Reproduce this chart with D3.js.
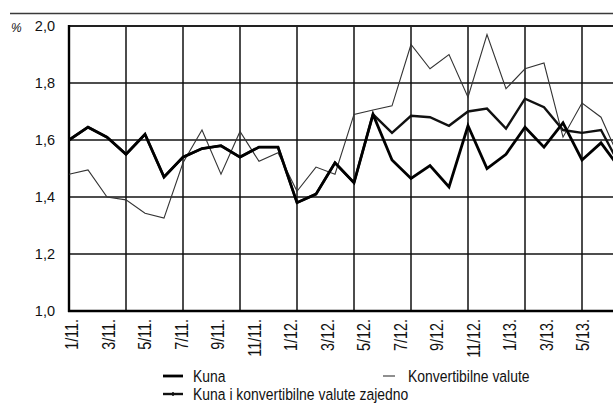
<!DOCTYPE html>
<html>
<head>
<meta charset="utf-8">
<script src="https://cdn.jsdelivr.net/npm/d3@7"></script>
<style>
  html, body { margin: 0; padding: 0; background: #fff; overflow: hidden; }
  svg { display: block; }
  text { font-family: "Liberation Sans", Arial, Helvetica, sans-serif; }
</style>
</head>
<body>
<script>
// Monthly observations, January 2011 to June 2013
const months = ["1/11","2/11","3/11","4/11","5/11","6/11","7/11","8/11","9/11","10/11","11/11","12/11",
                "1/12","2/12","3/12","4/12","5/12","6/12","7/12","8/12","9/12","10/12","11/12","12/12",
                "1/13","2/13","3/13","4/13","5/13","6/13"];

const kuna = [1.60, 1.645, 1.61, 1.55, 1.62, 1.47, 1.54, 1.57, 1.58, 1.54, 1.575, 1.575,
              1.38, 1.41, 1.52, 1.45, 1.69, 1.53, 1.465, 1.51, 1.435, 1.65, 1.50, 1.55,
              1.645, 1.575, 1.66, 1.53, 1.59, 1.50];

const konvertibilne = [1.48, 1.495, 1.40, 1.39, 1.343, 1.326, 1.52, 1.635, 1.48, 1.63, 1.525, 1.555,
                       1.42, 1.505, 1.48, 1.69, 1.705, 1.72, 1.935, 1.85, 1.90, 1.75, 1.97, 1.78,
                       1.85, 1.87, 1.61, 1.73, 1.68, 1.53];

const zajedno = [1.60, 1.645, 1.61, 1.55, 1.62, 1.47, 1.54, 1.57, 1.58, 1.54, 1.575, 1.575,
                 1.38, 1.41, 1.52, 1.45, 1.69, 1.625, 1.685, 1.68, 1.65, 1.70, 1.71, 1.64,
                 1.745, 1.715, 1.635, 1.625, 1.635, 1.51];

const yTicks = [1.0, 1.2, 1.4, 1.6, 1.8, 2.0];
const xTickLabels = ["1/11.","3/11.","5/11.","7/11.","9/11.","11/11.","1/12.","3/12.","5/12.",
                     "7/12.","9/12.","11/12.","1/13.","3/13.","5/13."];

const W = 613, H = 403;
const NARROW = 0.82;   // horizontal squeeze giving a condensed face
const svg = d3.select("body").append("svg").attr("width", W).attr("height", H);

// data positions: one step per month
const x = d3.scaleLinear().domain([0, months.length - 1]).range([69, 620]);
// month captions run on their own, slightly tighter spacing
const xLab = d3.scaleLinear().domain([0, xTickLabels.length - 1]).range([72, 583]);
const y = d3.scaleLinear().domain([1.0, 2.0]).range([311, 26]);

// header rule
svg.append("line").attr("x1", 10).attr("x2", W).attr("y1", 13.5).attr("y2", 13.5)
   .attr("stroke", "#3a3a3a").attr("stroke-width", 1.6);

// horizontal grid
svg.append("g").selectAll("line").data(yTicks.filter(d => d > 1.0 && d < 2.0)).join("line")
   .attr("x1", x(0)).attr("x2", W)
   .attr("y1", d => y(d)).attr("y2", d => y(d))
   .attr("stroke", "#4d4d4d").attr("stroke-width", 1.8);

// vertical grid every third month
svg.append("g").selectAll("line").data(d3.range(3, months.length, 3)).join("line")
   .attr("x1", d => x(d)).attr("x2", d => x(d))
   .attr("y1", y(2.0)).attr("y2", y(1.0))
   .attr("stroke", "#111").attr("stroke-width", 1.5);

// frame: top, left, bottom
svg.append("line").attr("x1", x(0)).attr("x2", W).attr("y1", y(2.0)).attr("y2", y(2.0))
   .attr("stroke", "#222").attr("stroke-width", 2);
svg.append("line").attr("x1", x(0)).attr("x2", x(0)).attr("y1", y(2.0) - 1).attr("y2", y(1.0) + 1)
   .attr("stroke", "#000").attr("stroke-width", 2.4);
svg.append("line").attr("x1", x(0) - 1).attr("x2", W).attr("y1", y(1.0)).attr("y2", y(1.0))
   .attr("stroke", "#000").attr("stroke-width", 2.4);

// y axis labels
const fmt = d => d3.format(".1f")(d).replace(".", ",");
svg.append("g").selectAll("text").data(yTicks).join("text")
   .attr("x", 55).attr("y", d => y(d)).attr("dy", "0.36em")
   .attr("text-anchor", "end").attr("font-size", 14.5).attr("fill", "#111")
   .text(fmt);
svg.append("text").attr("x", 11).attr("y", 31.5)
   .attr("font-size", 12).attr("font-style", "italic").attr("fill", "#111").text("%");

// x axis captions, read bottom to top
svg.append("g").selectAll("text").data(xTickLabels).join("text")
   .attr("transform", (d, i) => `translate(${xLab(i)},319) rotate(-90) scale(${NARROW},1)`)
   .attr("text-anchor", "end").attr("dy", "0.36em")
   .attr("font-size", 17.5).attr("fill", "#111")
   .text(d => d);

// series lines
const line = d3.line().x((d, i) => x(i)).y(d => y(d));
const series = [
  { name: "Kuna i konvertibilne valute zajedno", values: zajedno, width: 2.4, color: "#111" },
  { name: "Konvertibilne valute", values: konvertibilne, width: 1.1, color: "#333" },
  { name: "Kuna", values: kuna, width: 2.8, color: "#000" }
];
svg.append("g").selectAll("path").data(series).join("path")
   .attr("d", s => line(s.values))
   .attr("fill", "none").attr("stroke", s => s.color)
   .attr("stroke-width", s => s.width).attr("stroke-linejoin", "miter");

// legend
const leg = svg.append("g").attr("font-size", 17).attr("fill", "#111");
const legendItems = [
  { s: series[2], lx: 163, ly: 376, len: 20, tx: 193 },
  { s: series[1], lx: 383, ly: 376, len: 12, tx: 408 },
  { s: series[0], lx: 163, ly: 394, len: 20, tx: 193 }
];
legendItems.forEach(it => {
  leg.append("line").attr("x1", it.lx).attr("x2", it.lx + it.len)
     .attr("y1", it.ly).attr("y2", it.ly)
     .attr("stroke", it.s.color).attr("stroke-width", it.s.width);
  if (it.s === series[0]) {
    leg.append("line").attr("x1", it.lx + 10).attr("x2", it.lx + 10)
       .attr("y1", it.ly - 2).attr("y2", it.ly + 2)
       .attr("stroke", "#111").attr("stroke-width", 1.5);
  }
  leg.append("text")
     .attr("transform", `translate(${it.tx},${it.ly + 5.5}) scale(${NARROW},1)`)
     .text(it.s.name);
});
</script>
</body>
</html>
